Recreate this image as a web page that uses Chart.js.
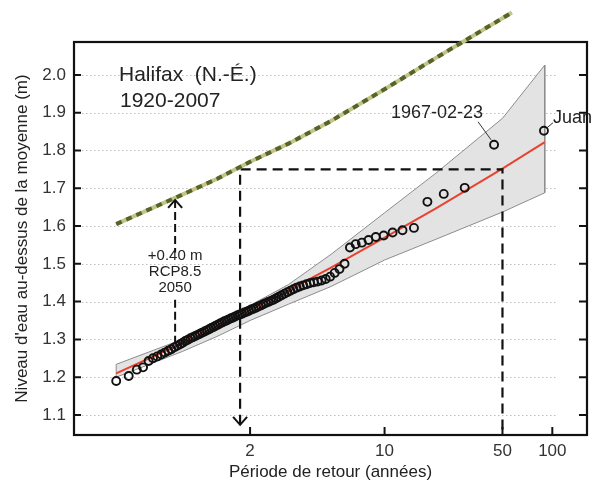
<!DOCTYPE html>
<html>
<head>
<meta charset="utf-8">
<script src="https://cdn.jsdelivr.net/npm/chart.js@4.4.0/dist/chart.umd.min.js"></script>
<style>
  html, body { margin: 0; padding: 0; background: #fff; }
  #wrap { width: 597px; height: 485px; }
</style>
</head>
<body>
<div id="wrap"><canvas id="chart" width="597" height="485"></canvas></div>
<script>
// observed annual maxima, sorted (return period in years, level in m)
const obsPeriods = [
  1.011, 1.023, 1.035, 1.047, 1.06, 1.072, 1.085, 1.099, 1.113, 1.127,
  1.141, 1.156, 1.171, 1.187, 1.203, 1.219, 1.236, 1.254, 1.271, 1.29,
  1.309, 1.328, 1.348, 1.369, 1.391, 1.413, 1.435, 1.459, 1.483, 1.508,
  1.534, 1.561, 1.589, 1.618, 1.648, 1.679, 1.712, 1.745, 1.78, 1.816,
  1.854, 1.894, 1.935, 1.978, 2.023, 2.07, 2.119, 2.171, 2.225, 2.282,
  2.342, 2.405, 2.472, 2.543, 2.618, 2.697, 2.781, 2.871, 2.967, 3.069,
  3.179, 3.296, 3.423, 3.56, 3.708, 3.87, 4.045, 4.238, 4.45, 4.684,
  4.944, 5.235, 5.563, 5.933, 6.357, 6.846, 7.417, 8.091, 8.9, 9.889,
  11.13, 12.71, 14.83, 17.8, 22.25, 29.67, 44.5, 89
];
const obsLevels = [
  1.19, 1.203, 1.22, 1.226, 1.243, 1.25, 1.255, 1.26, 1.265, 1.27,
  1.274, 1.279, 1.283, 1.287, 1.291, 1.296, 1.299, 1.303, 1.306, 1.309,
  1.312, 1.315, 1.318, 1.321, 1.324, 1.327, 1.330, 1.333, 1.336, 1.339,
  1.342, 1.345, 1.348, 1.350, 1.353, 1.356, 1.358, 1.361, 1.364, 1.366,
  1.368, 1.371, 1.373, 1.376, 1.379, 1.381, 1.384, 1.387, 1.390, 1.393,
  1.396, 1.399, 1.402, 1.405, 1.409, 1.413, 1.417, 1.421, 1.425, 1.429,
  1.433, 1.437, 1.440, 1.443, 1.446, 1.449, 1.451, 1.453, 1.456, 1.46,
  1.466, 1.476, 1.486, 1.50, 1.543, 1.552, 1.556, 1.563, 1.571, 1.575,
  1.583, 1.589, 1.595, 1.664, 1.685, 1.701, 1.815, 1.852
];

// fitted curve and its confidence band
const fitPeriods = [1.011, 1.2, 1.5, 2, 3, 5, 10, 20, 50, 90];
const fitLevels  = [1.21, 1.29, 1.335, 1.378, 1.43, 1.49, 1.569, 1.647, 1.752, 1.822];
const bandUpper  = [1.234, 1.30, 1.345, 1.39, 1.445, 1.525, 1.635, 1.74, 1.885, 2.026];
const bandLower  = [1.200, 1.268, 1.308, 1.35, 1.393, 1.44, 1.51, 1.565, 1.637, 1.688];

// fitted curve + 0.40 m (RCP8.5, 2050)
const rcpPeriods = [1.011, 1.2, 1.5, 2, 3, 5, 10, 20, 50, 57];
const rcpLevels  = [1.605, 1.683, 1.725, 1.77, 1.818, 1.878, 1.962, 2.045, 2.15, 2.165];

// 50-year level today becomes ~1.8-year level in 2050
const designPeriods = [1.82, 1.82, 50, 50];
const designLevels  = [1.074, 1.75, 1.75, 1.047];
const risePeriods = [1.16, 1.16, 1.16, 1.16];
const riseLevels  = [1.669, 1.53, 1.405, 1.275];

const xTickPeriods = [2, 10, 50, 100];
const xTickLabels = ['2', '10', '50', '100'];
const yTicks = [1.1, 1.2, 1.3, 1.4, 1.5, 1.6, 1.7, 1.8, 1.9, 2.0];

// Gumbel reduced variate for a return period
function gumbel(T) {
    return -Math.log(-Math.log(1 - 1 / T));
}
function pts(periods, levels) {
    return periods.map((T, i) => ({ x: gumbel(T), y: levels[i] }));
}

const bandShape = pts(fitPeriods, bandUpper)
    .concat(pts(fitPeriods, bandLower).reverse())
    .concat(pts(fitPeriods.slice(0, 1), bandUpper.slice(0, 1)));

const risePts = pts(risePeriods, riseLevels);
risePts.splice(2, 0, { x: risePts[1].x, y: null });

const FONT = "'Liberation Sans', Arial, sans-serif";
Chart.defaults.font.family = FONT;
Chart.defaults.color = '#333';

const decor = {
    id: 'decor',
    beforeDatasetsDraw(chart) {
        const { ctx, chartArea: a, scales: { x, y } } = chart;
        ctx.save();
        // dotted grid
        ctx.strokeStyle = '#bdbdbd';
        ctx.lineWidth = 1;
        ctx.setLineDash([1.5, 2.5]);
        yTicks.forEach(v => {
            const py = Math.round(y.getPixelForValue(v)) + 0.5;
            ctx.beginPath();
            ctx.moveTo(a.left + 8, py);
            ctx.lineTo(a.right - 30, py);
            ctx.stroke();
        });
        ctx.setLineDash([]);
        // frame + inward ticks
        ctx.strokeStyle = '#111';
        ctx.lineWidth = 2.2;
        ctx.strokeRect(a.left, a.top, a.right - a.left, a.bottom - a.top);
        ctx.lineWidth = 2;
        yTicks.forEach(v => {
            const py = y.getPixelForValue(v);
            ctx.beginPath();
            ctx.moveTo(a.left, py); ctx.lineTo(a.left + 7, py);
            ctx.moveTo(a.right, py); ctx.lineTo(a.right - 8, py);
            ctx.stroke();
        });
        xTickPeriods.forEach(T => {
            const px = x.getPixelForValue(gumbel(T));
            ctx.beginPath();
            ctx.moveTo(px, a.bottom); ctx.lineTo(px, a.bottom - 8);
            ctx.stroke();
        });
        ctx.restore();
    },
    afterDatasetsDraw(chart) {
        const { ctx, chartArea: a, scales: { x, y } } = chart;
        ctx.save();
        ctx.strokeStyle = '#111';
        ctx.lineWidth = 2;
        // arrow heads
        const up = { x: x.getPixelForValue(gumbel(risePeriods[0])), y: y.getPixelForValue(riseLevels[0]) };
        ctx.beginPath();
        ctx.moveTo(up.x - 7, up.y + 8); ctx.lineTo(up.x, up.y); ctx.lineTo(up.x + 7, up.y + 8);
        ctx.stroke();
        const dn = { x: x.getPixelForValue(gumbel(designPeriods[0])), y: y.getPixelForValue(designLevels[0]) };
        ctx.beginPath();
        ctx.moveTo(dn.x - 7, dn.y - 8); ctx.lineTo(dn.x, dn.y); ctx.lineTo(dn.x + 7, dn.y - 8);
        ctx.stroke();

        // station title
        ctx.fillStyle = '#222';
        ctx.textBaseline = 'middle';
        ctx.textAlign = 'left';
        ctx.font = '21px ' + FONT;
        ctx.fillText('Halifax  (N.-É.)', a.left + 45, 75);
        ctx.fillText('1920-2007', a.left + 46, 101);

        // rise label
        ctx.textAlign = 'center';
        ctx.font = '15px ' + FONT;
        ctx.fillText('+0.40 m', up.x, 256);
        ctx.fillText('RCP8.5', up.x, 272);
        ctx.fillText('2050', up.x, 288);

        // event labels
        const n = obsPeriods.length;
        const p67 = { x: x.getPixelForValue(gumbel(obsPeriods[n - 2])), y: y.getPixelForValue(obsLevels[n - 2]) };
        const pJ = { x: x.getPixelForValue(gumbel(obsPeriods[n - 1])), y: y.getPixelForValue(obsLevels[n - 1]) };
        ctx.font = '18px ' + FONT;
        ctx.fillText('1967-02-23', p67.x - 57, p67.y - 32);
        ctx.textAlign = 'left';
        ctx.fillText('Juan', pJ.x + 9, pJ.y - 13);
        ctx.strokeStyle = '#333';
        ctx.lineWidth = 1;
        ctx.beginPath();
        ctx.moveTo(p67.x - 16, p67.y - 23); ctx.lineTo(p67.x - 3, p67.y - 5);
        ctx.moveTo(pJ.x + 9, pJ.y - 8); ctx.lineTo(pJ.x + 3, pJ.y - 3);
        ctx.stroke();
        ctx.restore();
    }
};

new Chart(document.getElementById('chart'), {
    type: 'line',
    data: {
        datasets: [
            {
                data: pts(rcpPeriods, rcpLevels),
                borderColor: '#55652a', borderWidth: 4, borderDash: [6, 5],
                pointRadius: 0, clip: false, order: 0
            },
            {
                data: pts(rcpPeriods, rcpLevels),
                borderColor: '#c4c488', borderWidth: 4,
                pointRadius: 0, clip: false, order: 1
            },
            {
                data: pts(designPeriods, designLevels),
                borderColor: '#111', borderWidth: 2.2, borderDash: [10, 6],
                pointRadius: 0, order: 2
            },
            {
                data: risePts,
                borderColor: '#111', borderWidth: 2, borderDash: [8, 4],
                pointRadius: 0, spanGaps: false, order: 3
            },
            {
                data: pts(obsPeriods, obsLevels),
                showLine: false,
                pointRadius: 4, pointBorderWidth: 1.9,
                pointBorderColor: '#111', pointBackgroundColor: 'rgba(0,0,0,0)',
                order: 4
            },
            {
                data: pts(fitPeriods, fitLevels),
                borderColor: '#e8432e', borderWidth: 2,
                pointRadius: 0, order: 5
            },
            {
                data: bandShape,
                borderColor: '#8c8c8c', borderWidth: 1,
                backgroundColor: '#e3e3e3', fill: 'shape',
                pointRadius: 0, order: 6
            }
        ]
    },
    options: {
        responsive: false,
        animation: false,
        events: [],
        layout: { padding: { top: 42, right: 10, left: 0, bottom: 0 } },
        plugins: { legend: { display: false }, tooltip: { enabled: false } },
        scales: {
            x: {
                type: 'linear',
                min: -2.10, max: 5.086,
                grid: { display: false, drawTicks: false },
                border: { display: false },
                afterBuildTicks: s => { s.ticks = xTickPeriods.map(T => ({ value: gumbel(T) })); },
                afterFit: s => { s.height = 50; },
                ticks: {
                    autoSkip: false, maxRotation: 0, padding: 6,
                    font: { size: 17 }, color: '#333',
                    callback: (v, i) => xTickLabels[i]
                },
                title: {
                    display: true, text: 'Période de retour (années)',
                    font: { size: 17 }, color: '#222',
                    padding: { top: 0, bottom: 2 }
                }
            },
            y: {
                type: 'linear',
                min: 1.047, max: 2.087,
                grid: { display: false, drawTicks: false },
                border: { display: false },
                afterBuildTicks: s => { s.ticks = yTicks.map(v => ({ value: v })); },
                afterFit: s => { s.width = 74; },
                ticks: {
                    padding: 8, font: { size: 17 }, color: '#333',
                    callback: v => v.toFixed(1)
                },
                title: {
                    display: true, text: "Niveau d'eau au-dessus de la moyenne (m)",
                    font: { size: 17 }, color: '#222',
                    padding: { top: 12, bottom: 0 }
                }
            }
        }
    },
    plugins: [decor]
});
</script>
</body>
</html>
